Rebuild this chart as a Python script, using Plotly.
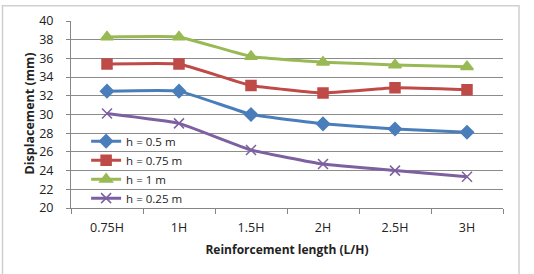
import plotly.graph_objects as go

categories = ["0.75H", "1H", "1.5H", "2H", "2.5H", "3H"]
h_050 = [32.5, 32.5, 30.0, 29.0, 28.45, 28.1]
h_075 = [35.4, 35.4, 33.1, 32.3, 32.85, 32.65]
h_100 = [38.3, 38.3, 36.2, 35.6, 35.3, 35.1]
h_025 = [30.1, 29.05, 26.2, 24.7, 24.0, 23.35]

series = [
    ("h = 0.5 m", h_050, "#4A7EBB", "diamond", 10),
    ("h = 0.75 m", h_075, "#BE4B48", "square", 10),
    ("h = 1 m", h_100, "#98B954", "triangle-up", 11),
    ("h = 0.25 m", h_025, "#7D60A0", "x-thin", 10),
]

fig = go.Figure()
for name, vals, color, sym, size in series:
    fig.add_trace(go.Scatter(
        x=categories, y=vals, name=name, mode="lines+markers",
        line=dict(color=color, width=3, shape="spline", smoothing=0.3),
        marker=dict(symbol=sym, size=size, color=color,
                    line=dict(color=color, width=1.5)),
    ))

fig.update_layout(
    width=534, height=274,
    margin=dict(l=71, r=31, t=18, b=66),
    paper_bgcolor="white", plot_bgcolor="white",
    font=dict(family="Open Sans, Liberation Sans, sans-serif", size=12, color="#222"),
    showlegend=True,
    legend=dict(x=0.035, y=0.435, xanchor="left", yanchor="top",
                bgcolor="rgba(0,0,0,0)", font=dict(size=11.5, color="#222"),
                tracegroupgap=0, itemwidth=30),
    shapes=[dict(type="rect", xref="paper", yref="paper",
                 x0=(2.5-71)/432, x1=(519-71)/432, y0=(208-285)/190, y1=(208-2.5)/190,
                 line=dict(color="#D0D0D0", width=1.5), layer="below")],
    annotations=[dict(text="<b>Displacement (mm)</b>", xref="paper", yref="paper",
                      x=(30-71)/432, y=(208-112)/190, textangle=-90,
                      xanchor="center", yanchor="middle", showarrow=False,
                      font=dict(size=12.5, color="#222"))],
)
fig.update_xaxes(
    type="category", range=[-0.5, 5.5],
    showline=True, linecolor="#868686", linewidth=1,
    ticks="outside", tickson="boundaries", ticklen=5, tickcolor="#868686",
    ticklabelstandoff=8,
    showgrid=False,
    title=dict(text="<b>Reinforcement length (L/H)</b>", font=dict(size=12), standoff=10),
    tickfont=dict(size=12.5),
)
fig.update_yaxes(
    range=[20, 40], dtick=2,
    showline=True, linecolor="#868686", linewidth=1,
    ticks="outside", ticklen=4, tickcolor="#868686",
    ticklabelstandoff=10,
    showgrid=True, gridcolor="#8C8C8C", gridwidth=1,
    zeroline=False,
    tickfont=dict(size=12.5),
)

fig.write_html("out.html")
